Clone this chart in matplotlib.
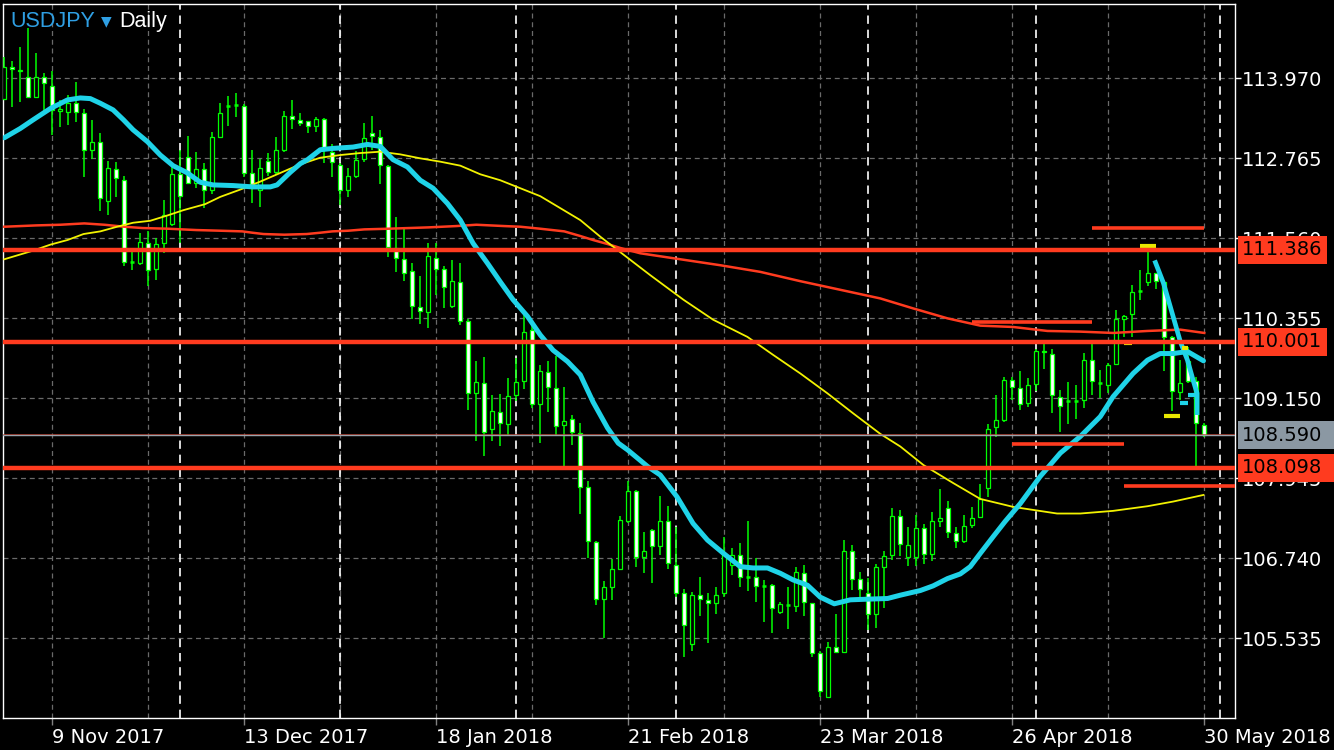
import matplotlib
matplotlib.use('Agg')
import matplotlib.pyplot as plt
from matplotlib.patches import Rectangle
from matplotlib.transforms import blended_transform_factory

plt.rcParams['font.family'] = ['DejaVu Sans']

# ---------------- data ----------------
symbol = "USDJPY"
timeframe = "Daily"

opens = [
    113.66, 114.13, 114.07, 113.99, 113.69, 113.98, 113.85, 113.48, 113.46, 113.60,
    113.45, 112.88, 113.00, 112.12, 112.60, 112.44, 111.19, 111.19, 111.48, 111.09,
    111.48, 111.77, 112.52, 112.78, 112.39, 112.60, 112.29, 113.08, 113.54, 113.56,
    113.55, 112.54, 112.29, 112.72, 112.55, 112.89, 113.40, 113.34, 113.32, 113.24,
    113.35, 112.85, 112.66, 112.28, 112.50, 112.75, 113.14, 113.08, 112.64, 111.41,
    111.24, 111.07, 110.52, 110.45, 111.26, 111.09, 110.54, 110.89, 110.31, 109.22,
    109.38, 108.69, 108.94, 108.76, 109.19, 109.40, 110.18, 109.06, 109.54, 109.30,
    108.74, 108.83, 108.63, 107.81, 106.98, 106.12, 106.31, 106.58, 107.30, 107.75,
    106.75, 107.16, 106.92, 107.30, 106.64, 106.21, 105.44, 106.18, 106.10, 106.06,
    106.22, 106.64, 106.78, 106.45, 106.45, 106.32, 106.33, 105.93, 106.03, 106.02,
    106.51, 106.06, 105.31, 104.65, 105.40, 105.33, 106.84, 106.42, 106.22, 105.89,
    106.60, 106.78, 107.37, 106.75, 106.76, 107.19, 106.80, 107.29, 107.49, 107.11,
    107.00, 107.23, 107.36, 107.79, 108.71, 108.82, 109.42, 109.30, 109.07, 109.36,
    109.86, 109.82, 109.17, 109.10, 109.10, 109.12, 109.73, 109.37, 109.34, 109.66,
    110.34, 110.41, 110.75, 110.89, 111.03, 110.90, 110.07, 109.24, 109.70, 109.40,
    108.75]
highs = [
    114.29, 114.23, 114.44, 114.72, 114.35, 114.04, 114.07, 113.64, 113.71, 113.91,
    113.51, 113.34, 113.14, 112.72, 112.71, 112.49, 111.41, 111.63, 111.66, 111.56,
    112.14, 112.66, 112.89, 113.10, 112.86, 112.69, 113.16, 113.59, 113.70, 113.75,
    113.58, 112.89, 112.75, 112.84, 113.08, 113.47, 113.64, 113.45, 113.33, 113.38,
    113.37, 112.98, 112.69, 112.61, 112.87, 113.30, 113.40, 113.19, 112.66, 111.88,
    111.71, 111.18, 110.99, 111.48, 111.49, 111.14, 111.23, 111.18, 110.34, 109.71,
    109.77, 109.20, 109.21, 109.45, 109.75, 110.48, 110.28, 109.65, 109.71, 109.79,
    109.32, 108.89, 108.77, 107.90, 106.99, 106.39, 106.73, 107.37, 107.90, 107.77,
    107.13, 107.17, 107.67, 107.52, 107.20, 106.28, 106.23, 106.45, 106.21, 106.30,
    107.05, 106.89, 106.96, 107.29, 106.74, 106.41, 106.35, 106.07, 106.31, 106.61,
    106.64, 106.06, 105.34, 105.48, 105.90, 107.01, 106.94, 106.53, 106.44, 106.65,
    106.84, 107.49, 107.46, 107.21, 107.39, 107.25, 107.43, 107.78, 107.60, 107.20,
    107.39, 107.51, 107.86, 108.76, 109.20, 109.46, 109.47, 109.55, 109.45, 109.89,
    110.00, 109.89, 109.27, 109.39, 109.35, 109.83, 110.00, 109.57, 109.68, 110.47,
    110.40, 110.85, 111.08, 111.38, 111.04, 110.93, 110.09, 109.73, 109.92, 109.47,
    108.77]
lows = [
    113.64, 113.54, 113.61, 113.68, 113.68, 113.45, 113.11, 113.23, 113.26, 113.31,
    112.48, 112.75, 111.96, 111.90, 112.18, 111.14, 111.08, 111.15, 110.84, 110.93,
    111.34, 111.74, 111.49, 112.37, 112.31, 112.01, 112.23, 113.08, 113.25, 113.38,
    112.48, 112.08, 112.03, 112.49, 112.51, 112.85, 113.20, 113.25, 113.14, 113.16,
    112.69, 112.48, 112.06, 112.18, 112.46, 112.71, 112.89, 112.38, 111.28, 111.05,
    110.92, 110.34, 110.26, 110.20, 110.70, 110.50, 110.51, 110.25, 108.97, 108.50,
    108.28, 108.50, 108.42, 108.60, 109.11, 109.29, 109.00, 108.47, 108.94, 108.58,
    108.06, 108.44, 107.41, 106.74, 106.03, 105.54, 106.10, 106.57, 107.26, 106.60,
    106.52, 106.37, 106.79, 106.57, 106.16, 105.25, 105.34, 105.86, 105.46, 105.89,
    106.15, 106.48, 106.31, 106.25, 106.07, 105.78, 105.61, 105.90, 105.67, 105.93,
    105.87, 105.25, 104.64, 104.63, 105.31, 105.33, 106.26, 106.13, 105.66, 105.69,
    105.99, 106.71, 106.77, 106.62, 106.62, 106.65, 106.70, 107.21, 107.04, 106.89,
    106.96, 107.19, 107.34, 107.66, 108.56, 108.79, 109.12, 108.97, 109.02, 109.25,
    109.59, 108.93, 108.64, 108.76, 108.83, 109.00, 109.20, 109.15, 109.22, 109.65,
    110.07, 110.07, 110.62, 110.83, 110.79, 109.56, 108.96, 109.12, 109.37, 108.13,
    108.56]
closes = [
    114.13, 114.10, 114.09, 113.69, 113.98, 113.89, 113.49, 113.51, 113.60, 113.46,
    112.89, 113.00, 112.16, 112.61, 112.46, 111.20, 111.20, 111.50, 111.08, 111.47,
    111.91, 112.52, 112.19, 112.39, 112.60, 112.29, 113.08, 113.45, 113.55, 113.57,
    112.54, 112.38, 112.61, 112.55, 112.89, 113.40, 113.35, 113.29, 113.25, 113.35,
    112.91, 112.70, 112.28, 112.49, 112.73, 113.06, 113.09, 112.66, 111.43, 111.26,
    111.03, 110.53, 110.46, 111.29, 111.10, 110.82, 110.91, 110.31, 109.22, 109.39,
    108.64, 108.95, 108.77, 109.18, 109.39, 110.14, 109.06, 109.55, 109.31, 108.73,
    108.80, 108.64, 107.81, 106.99, 106.12, 106.30, 106.57, 107.31, 107.75, 106.75,
    106.85, 106.92, 107.30, 106.66, 106.22, 105.73, 106.18, 106.12, 106.06, 106.19,
    106.81, 106.78, 106.45, 106.46, 106.32, 106.33, 105.98, 106.04, 106.04, 106.53,
    106.07, 105.31, 104.73, 105.40, 105.33, 106.84, 106.42, 106.27, 105.89, 106.60,
    106.77, 107.37, 106.95, 106.94, 107.19, 106.80, 107.29, 107.35, 107.13, 107.00,
    107.22, 107.35, 107.63, 108.69, 108.82, 109.42, 109.31, 109.06, 109.34, 109.86,
    109.84, 109.19, 109.03, 109.11, 109.11, 109.73, 109.40, 109.38, 109.65, 110.34,
    110.39, 110.74, 110.76, 111.04, 110.91, 110.07, 109.25, 109.37, 109.41, 108.77,
    108.59]

# moving averages (bar index, price)
ma_fast_k = [0, 2, 3.6, 5.75, 7.9, 9.5, 10.75, 12, 13.6, 14.9, 16.1, 17.9, 19.5, 21.1, 22.9,
             24.5, 26.1, 28.6, 31.1, 33.25, 34.1, 35.75, 37, 37.9, 39.5, 41.1, 43.6, 45.4, 47,
             48.6, 50.4, 52, 53.6, 55.4, 57, 58.6, 60.4, 62, 63.6, 65.4, 67, 68.6, 70.4, 72,
             73.6, 75.4, 76.75, 77.9, 80.4, 82, 84.1, 86.1, 87.9, 89.9, 92, 93.6, 95.4, 97,
             98.6, 100.4, 102, 103.75, 105.75, 107.9, 110.4, 112, 114.5, 116.1, 117.9, 119.5,
             120.75, 122, 123.6, 125.1, 127, 129.5, 132, 134.5, 137, 138.6, 141.1, 142.9,
             144.5, 146.1, 147.9, 149.9]
ma_fast_v = [113.07, 113.21, 113.34, 113.51, 113.64, 113.67, 113.66, 113.59, 113.49, 113.34,
             113.19, 113.01, 112.81, 112.65, 112.54, 112.40, 112.36, 112.35, 112.33, 112.33,
             112.36, 112.55, 112.68, 112.74, 112.89, 112.91, 112.93, 112.97, 112.94, 112.74,
             112.63, 112.43, 112.31, 112.08, 111.83, 111.48, 111.18, 110.90, 110.63, 110.38,
             110.10, 109.87, 109.70, 109.50, 109.09, 108.70, 108.47, 108.37, 108.12, 107.99,
             107.66, 107.26, 107.01, 106.81, 106.61, 106.59, 106.59, 106.51, 106.41, 106.33,
             106.15, 106.05, 106.11, 106.12, 106.13, 106.18, 106.25, 106.32, 106.43, 106.50,
             106.61, 106.81, 107.06, 107.29, 107.56, 107.97, 108.32, 108.57, 108.87, 109.17,
             109.52, 109.72, 109.82, 109.82, 109.85, 109.71]
ma_mid_k = [0, 3.6, 5.75, 7.9, 9.9, 12, 14.1, 16.1, 18.25, 20.4, 22.4, 25.1, 27, 29.5, 32,
            34.5, 37, 39.5, 42, 44.5, 47, 49.5, 52, 54.5, 57, 59.5, 62, 64.5, 67, 69.5, 72,
            74.5, 76.75, 80.75, 84.9, 88.6, 92.9, 96.1, 99.5, 102.9, 106.1, 109.5, 112, 114.9,
            118.6, 122, 125.1, 126.1, 131.6, 134.5, 138.6, 142.9, 146.1, 149.9]
ma_mid_v = [111.24, 111.37, 111.46, 111.53, 111.62, 111.66, 111.73, 111.79, 111.82, 111.90,
            111.98, 112.07, 112.18, 112.29, 112.41, 112.54, 112.67, 112.77, 112.81, 112.84,
            112.86, 112.82, 112.76, 112.71, 112.65, 112.52, 112.43, 112.31, 112.19, 112.01,
            111.83, 111.58, 111.37, 111.00, 110.63, 110.33, 110.07, 109.80, 109.52, 109.22,
            108.92, 108.61, 108.42, 108.14, 107.87, 107.63, 107.54, 107.51, 107.41, 107.41,
            107.45, 107.52, 107.59, 107.69]
ma_slow_k = [0, 4, 7, 10, 12.5, 15, 17.3, 20.5, 24, 27, 29.75, 31, 32.4, 35, 37.8, 39.5, 41,
             43, 45, 48, 53, 56.5, 59, 62.5, 64.5, 67, 70, 72, 73.6, 75.4, 77, 79.5, 84.5,
             89.5, 94.5, 99.5, 104.5, 109.5, 113.6, 117.9, 122, 126.1, 130.4, 134.5, 138.6,
             142.9, 147, 150]
ma_slow_v = [111.73, 111.75, 111.76, 111.78, 111.76, 111.73, 111.71, 111.70, 111.68, 111.67,
             111.66, 111.64, 111.62, 111.61, 111.62, 111.64, 111.66, 111.67, 111.69, 111.70,
             111.72, 111.74, 111.76, 111.74, 111.73, 111.70, 111.66, 111.59, 111.53, 111.47,
             111.41, 111.33, 111.24, 111.15, 111.05, 110.91, 110.78, 110.65, 110.50, 110.35,
             110.24, 110.22, 110.16, 110.15, 110.13, 110.16, 110.18, 110.13]
# short cyan swing line at the right end
swing_k = [143.9, 144.9, 146.1, 147, 147.9, 148.6, 149.1, 149.1]
swing_v = [111.19, 110.88, 110.38, 110.00, 109.72, 109.42, 109.22, 108.93]
# small marker dashes
ymark_k0 = [142, 140, 145, 147.25]
ymark_k1 = [144, 141, 147, 148]
ymark_v = [111.44, 109.98, 108.88, 109.91]
cmark_k0 = [147, 148]
cmark_k1 = [148, 149]
cmark_v = [109.07, 109.19]

# drawn horizontal levels
levels = [111.386, 110.001, 108.098]
level_labels = ["111.386", "110.001", "108.098"]
seg_v = [111.715, 110.30, 108.46, 107.825]
seg_k0 = [136, 121, 126, 140]
seg_k1 = [150, 136, 140, 160]
bid = 108.59
bid_label = "108.590"

ytick_vals = [113.970, 112.765, 111.560, 110.355, 109.150, 107.945, 106.740, 105.535]
ytick_labels = ["113.970", "112.765", "111.560", "110.355", "109.150", "107.945", "106.740", "105.535"]
date_k = [6, 30, 54, 78, 102, 126, 150]
date_labels = ["9 Nov 2017", "13 Dec 2017", "18 Jan 2018", "21 Feb 2018",
               "23 Mar 2018", "26 Apr 2018", "30 May 2018"]
month_sep_k = [22, 42, 64, 84, 108, 129, 152]

# ---------------- figure ----------------
W, H = 1334, 750
fig = plt.figure(figsize=(W / 100, H / 100), dpi=100, facecolor='black')
Lp, Rp, Tp, Bp = 3, 1235, 4, 718
ax = fig.add_axes([Lp / W, 1 - Bp / H, (Rp - Lp) / W, (Bp - Tp) / H], facecolor='black')
XMIN, XMAX = -0.1625, 153.84
YMIN, YMAX = 104.330, 115.085

LIME = '#00ff00'
CYAN = '#1fd3e8'
YEL = '#f2f200'
RED = '#ff3b1f'
GRID = '#6a6a6a'

# grid
for y in ytick_vals:
    ax.axhline(y, color=GRID, lw=0.9, ls=(0, (4, 3)), zorder=1)
for k in range(6, 151, 12):
    ax.axvline(k, color=GRID, lw=0.9, ls=(0, (4, 3)), zorder=1)
for k in month_sep_k:
    ax.axvline(k, color='white', lw=1.2, ls=(0, (5, 3.5)), zorder=1.2)

# candles
bw = 0.54
for i, (o, h, l, c) in enumerate(zip(opens, highs, lows, closes)):
    ax.vlines(i, l, h, color=LIME, lw=1.1, zorder=3)
    bot, top = min(o, c), max(o, c)
    if top - bot < 0.015:
        ax.hlines((o + c) / 2, i - bw / 2, i + bw / 2, color=LIME, lw=1.8, zorder=4)
    else:
        ax.add_patch(Rectangle((i - bw / 2, bot), bw, top - bot,
                               facecolor='white' if c < o else 'black',
                               edgecolor=LIME, lw=0.9, zorder=4))

# moving averages
ax.plot(ma_slow_k, ma_slow_v, color=RED, lw=1.8, zorder=5)
ax.plot(ma_mid_k, ma_mid_v, color=YEL, lw=1.3, zorder=5)
ax.plot(ma_fast_k, ma_fast_v, color=CYAN, lw=3.6, zorder=6,
        solid_joinstyle='round', solid_capstyle='round')
ax.plot(swing_k, swing_v, color=CYAN, lw=3.4, zorder=6)
ax.hlines(cmark_v, cmark_k0, cmark_k1, color=CYAN, lw=3.0, zorder=6)
ax.hlines(ymark_v, ymark_k0, ymark_k1, color='#e8e800', lw=3.0, zorder=6)

# drawn levels
for lv in levels:
    ax.axhline(lv, color=RED, lw=3.2, zorder=7)
ax.hlines(seg_v, seg_k0, seg_k1, color=RED, lw=2.6, zorder=7)
ax.axhline(bid + 0.022, color='#c0321c', lw=0.5, zorder=7)
ax.axhline(bid, color='#9aa4ad', lw=1.0, zorder=7.1)

ax.set_xlim(XMIN, XMAX)
ax.set_ylim(YMIN, YMAX)

# axes styling
for s in ax.spines.values():
    s.set_color('white')
    s.set_linewidth(1.0)
ax.set_yticks(ytick_vals)
ax.set_yticklabels(ytick_labels)
ax.yaxis.tick_right()
ax.tick_params(axis='y', direction='out', length=4, width=1, color='white',
               labelcolor='white', labelsize=14, pad=1)
ax.set_xticks(date_k)
ax.set_xticklabels(date_labels, ha='left')
ax.tick_params(axis='x', direction='out', length=5, width=1, color='#808080',
               labelcolor='white', labelsize=14, pad=2)

# price label boxes on the right axis
trans = blended_transform_factory(fig.transFigure, ax.transData)
px = (YMAX - YMIN) / (Bp - Tp)
box_specs = [(111.386, "111.386", RED, 1327), (110.001, "110.001", RED, 1327),
             (bid, bid_label, '#8b98a3', 1334), (108.098, "108.098", RED, 1334)]
for lv, lab, col, xr in box_specs:
    rect = Rectangle((1238 / W, lv - 14 * px), (xr - 1238) / W, 28 * px,
                     transform=trans, facecolor=col, edgecolor='none',
                     clip_on=False, zorder=20)
    ax.add_artist(rect)
    ax.text(1242 / W, lv, lab, transform=trans, va='center', ha='left',
            color='black', fontsize=14, zorder=21, clip_on=False)

# title
fig.text(10 / W, 1 - 27 / H, symbol, color='#2f9fe3', fontsize=15.5,
         family=['Liberation Sans', 'DejaVu Sans'], va='baseline')
fig.text(101 / W, 1 - 25 / H, '\u25bc', color='#2f9fe3', fontsize=10,
         family=['DejaVu Sans'], va='baseline')
fig.text(119 / W, 1 - 27 / H, timeframe, color='white', fontsize=15.5,
         family=['Liberation Sans', 'DejaVu Sans'], va='baseline')

fig.savefig('out.png', dpi=100, facecolor='black')
